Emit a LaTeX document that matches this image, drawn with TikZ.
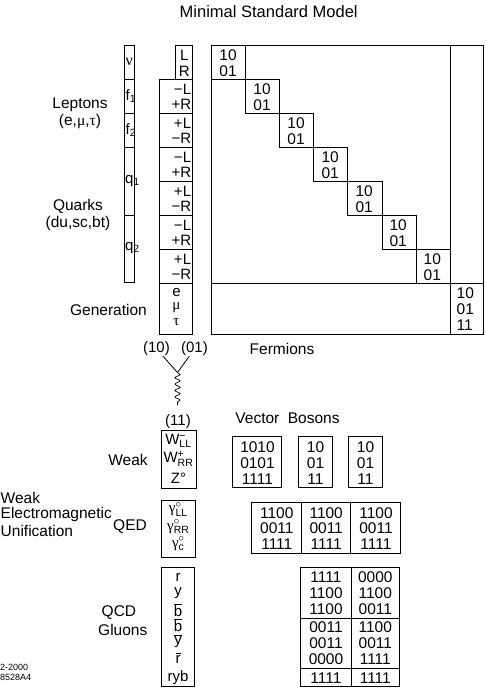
\documentclass[tikz,border=0pt]{standalone}
\usepackage{amsmath}
\usepackage{fontspec}
\setmainfont{Liberation Sans}
\newfontfamily\grk{Liberation Serif}
\usetikzlibrary{decorations.pathmorphing}
\newcommand\ovl[1]{$\overline{\text{#1}}$}
\newcommand\gk[1]{{\grk #1}}
\begin{document}
\begin{tikzpicture}[x=1pt,y=-1pt,
  bx/.style={draw,line width=0.8pt},
  t/.style={inner sep=0pt,font=\fontsize{15}{17}\selectfont},
  num/.style={inner sep=0pt,font=\fontsize{15.5}{17}\selectfont},
  lab/.style={inner sep=0pt,font=\fontsize{15.5}{17}\selectfont},
  tiny/.style={inner sep=0pt,anchor=west,font=\fontsize{9}{10}\selectfont}]
\useasboundingbox (0,0) rectangle (485,688);

% title
\node[inner sep=0pt,font=\fontsize{16.5}{18}\selectfont] (title) at (268.7,11.5) {Minimal Standard Model};

% column 1
\draw[bx] (124,45) rectangle (134.5,282.5);
\foreach \yy in {79.3,113.3,147.3,215.2} \draw[bx] (124,\yy) -- (134.5,\yy);
\node[inner sep=0pt,font=\fontsize{16}{17}\selectfont] (nu) at (129.2,62) {\gk{ν}};
\node[t,anchor=west] (f1) at (125.5,96) {f\textsubscript{1}};
\node[t,anchor=west] (f2) at (125.5,130) {f\textsubscript{2}};
\node[t,anchor=west] (q1) at (124.8,181) {q\textsubscript{1}};
\node[t,anchor=west] (q2) at (124.8,248) {q\textsubscript{2}};

% column 2
\draw[bx] (175.7,45) rectangle (192.7,79.3);
\node[t] (cL) at (184.2,55.5) {L};
\node[t] (cR) at (184.2,71) {R};
\draw[bx] (159.5,79.3) rectangle (192.7,283.3);
\foreach \yy in {113.3,147.3,181.3,215.3,249.3} \draw[bx] (159.5,\yy) -- (192.7,\yy);
\foreach \i/\a/\b in {0/{−L}/{+R},1/{+L}/{−R},2/{−L}/{+R},3/{+L}/{−R},4/{−L}/{+R},5/{+L}/{−R}} {
  \pgfmathsetmacro\ya{79.3+34*\i}
  \node[t,anchor=east] (s\i a) at (191.3,\ya+10) {\a};
  \node[t,anchor=east] (s\i b) at (191.3,\ya+25.5) {\b};
}
\draw[bx] (159.5,283.3) rectangle (192.7,334.3);
\node[t] (ge) at (176.5,292.5) {e};
\node[t] (gm) at (176.5,308) {\gk{μ}};
\node[t] (gt) at (176.5,322.5) {\gk{τ}};

% left labels
\node[lab] (lep) at (80,105) {Leptons};
\node[lab] (lep2) at (80,121.5) {(e,\gk{μ},\gk{τ})};
\node[lab] (qua) at (78,206) {Quarks};
\node[lab] (qua2) at (78,223) {(du,sc,bt)};
\node[lab,anchor=east] (gen) at (147,310) {Generation};

% fermion matrix
\draw[bx] (211.7,45) rectangle (483.3,334.3);
\draw[bx] (450,45) -- (450,334.3);
\draw[bx] (211.7,283.3) -- (483.3,283.3);
\foreach \i in {0,...,6} {
  \pgfmathsetmacro\xa{211.7+34.04*\i}
  \pgfmathsetmacro\ya{45+34.04*\i}
  \draw[bx] (\xa,\ya) rectangle ++(34.04,34.04);
  \node[num,anchor=west] (m\i a) at (\xa+7.5,\ya+10.3) {10};
  \node[num,anchor=west] (m\i b) at (\xa+7.5,\ya+26.3) {01};
}
\draw[bx] (450,283.3) rectangle (483.3,334.3);
\node[num,anchor=west] (g1) at (456.5,293) {10};
\node[num,anchor=west] (g2) at (456.5,309) {01};
\node[num,anchor=west] (g3) at (456.5,325) {11};

\node[lab] (ferm) at (282,349) {Fermions};

% (10) (01) -> (11)
\node[t] (p10) at (156.5,349) {(10)};
\node[t] (p01) at (194.5,349) {(01)};
\coordinate (meet) at (177.5,372.5);
\coordinate (sprend) at (177.5,405);
\draw[line width=0.8pt] (p10) -- (meet);
\draw[line width=0.8pt] (p01) -- (meet);
\draw[line width=0.7pt,decorate,decoration={snake,segment length=6.4pt,amplitude=2.6pt}] (meet) -- (sprend);
\node[t] (p11) at (178,422) {(11)};

% weak
\draw[bx] (161,430) rectangle (196,488);
\node[t] (wm) at (178.5,441) {W$^{\smash{\text{−}}}_{\smash{\text{LL}}}$};
\node[t] (wp) at (178.5,459.5) {W$^{\smash{\text{+}}}_{\smash{\text{RR}}}$};
\node[t] (z0) at (178.5,478) {Z°};
\node[lab] (weak) at (128,460) {Weak};
\node[lab] (vb) at (287.5,418) {Vector\hspace{0.55em}Bosons};

\draw[bx] (232.3,436.7) rectangle (281.7,487.3);
\draw[bx] (298.3,436.7) rectangle (332.7,487.3);
\draw[bx] (348.3,436.7) rectangle (382.7,487.3);
\foreach \r/\yy/\ta/\tb/\tc in {1/446.7/1010/10/10,2/462.8/0101/01/01,3/479/1111/11/11} {
  \node[num] (v1\r) at (257.5,\yy) {\ta};
  \node[num] (v2\r) at (315.5,\yy) {\tb};
  \node[num] (v3\r) at (365.5,\yy) {\tc};
}

% electroweak labels
\node[lab,anchor=west] (ew1) at (0.5,498) {Weak};
\node[lab,anchor=west] (ew2) at (0.5,514.5) {Electromagnetic};
\node[lab,anchor=west] (ew3) at (0.5,531) {Unification};

% QED
\node[lab] (qed) at (130,527) {QED};
\draw[bx] (161.7,500) rectangle (195,557);
\node[t] (gll) at (178.3,511) {$\text{\gk{γ}}^{\smash{\circ}}_{\smash{\text{LL}}}$};
\node[t] (grr) at (178.3,528.5) {$\text{\gk{γ}}^{\smash{\circ}}_{\smash{\text{RR}}}$};
\node[t] (gc) at (178.3,545.5) {$\text{\gk{γ}}^{\smash{\circ}}_{\smash{\text{c}}}$};
\draw[bx] (251.7,502.7) rectangle (400.7,553.3);
\draw[bx] (301,502.7) -- (301,553.3);
\draw[bx] (350.7,502.7) -- (350.7,553.3);
\foreach \r/\yy/\tx in {1/512.7/1100,2/528.3/0011,3/544/1111} {
  \node[num] (e1\r) at (276.8,\yy) {\tx};
  \node[num] (e2\r) at (326.2,\yy) {\tx};
  \node[num] (e3\r) at (376,\yy) {\tx};
}

% QCD
\node[lab,anchor=west] (qcd) at (101.5,613) {QCD};
\node[lab,anchor=west] (glu) at (98,629.5) {Gluons};
\draw[bx] (161.7,567.3) rectangle (194.5,686);
\node[t] (c1) at (178.1,577) {r};
\node[t] (c2) at (178.1,593.5) {y};
\node[t] (c3) at (178.1,610) {\ovl{b}};
\node[t] (c4) at (178.1,625) {\ovl{b}};
\node[t] (c5) at (178.1,641) {\ovl{y}};
\node[t] (c6) at (178.1,658) {\ovl{r}};
\node[t] (c7) at (178.1,677.5) {ryb};
\draw[bx] (300.7,567.3) rectangle (399,686);
\draw[bx] (351,567.3) -- (351,686);
\draw[bx] (300.7,618.3) -- (399,618.3);
\draw[bx] (300.7,668.3) -- (399,668.3);
\foreach \r/\yy/\ta/\tb in {1/577/1111/0000,2/593.3/1100/1100,3/609.5/1100/0011,4/626.7/0011/1100,5/643.3/0011/0011,6/659.3/0000/1111,7/678/1111/1111} {
  \node[num] (k1\r) at (326,\yy) {\ta};
  \node[num] (k2\r) at (375.3,\yy) {\tb};
}

% stamp
\node[tiny] (d1) at (0,667.5) {2-2000};
\node[tiny] (d2) at (0,677.5) {8528A4};
\end{tikzpicture}
\end{document}
